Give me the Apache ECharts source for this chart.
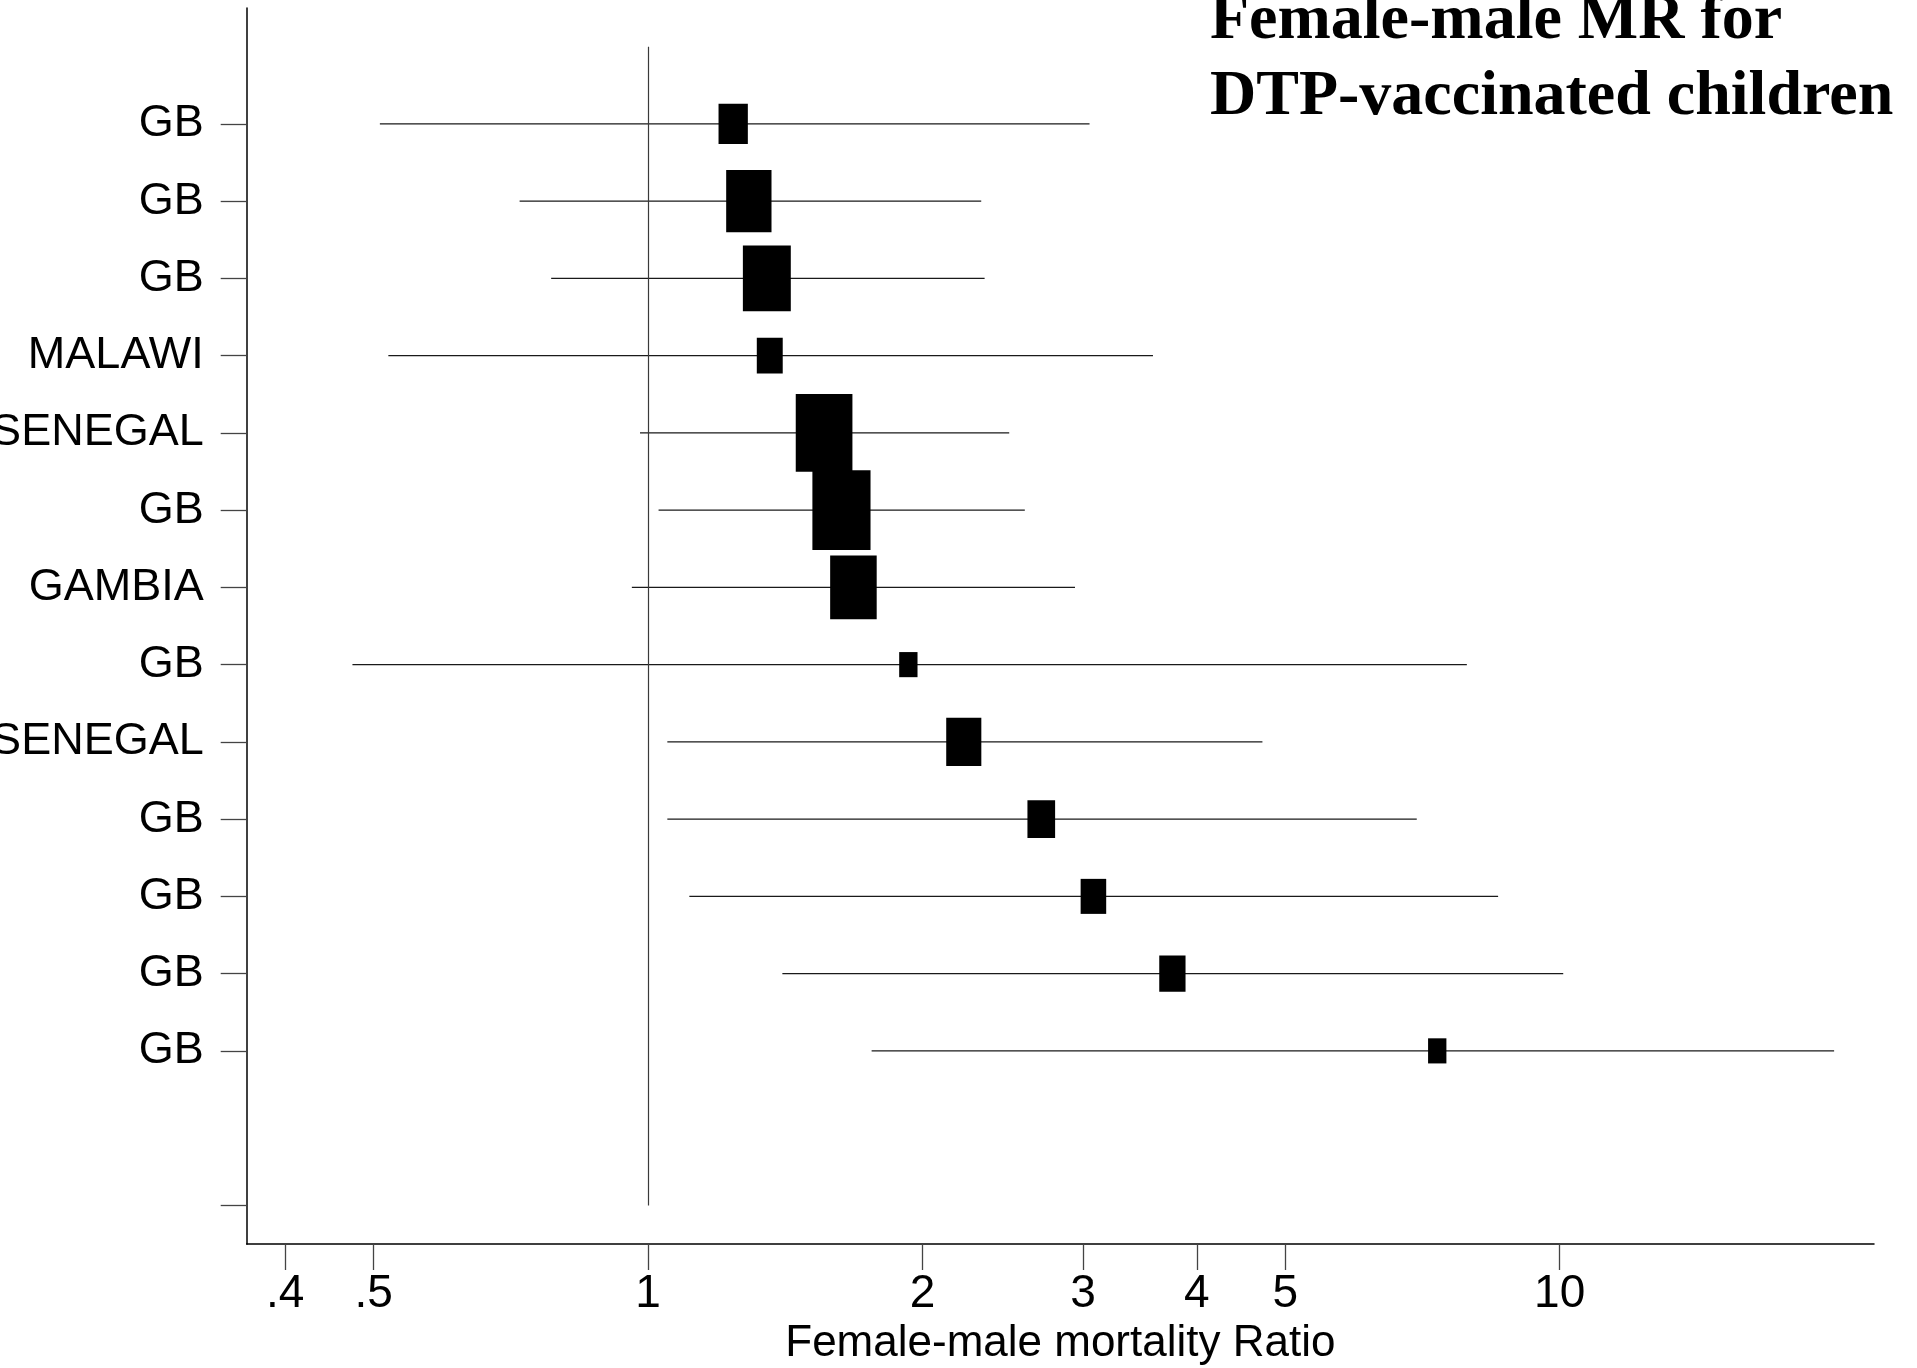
<!DOCTYPE html>
<html>
<head>
<meta charset="utf-8">
<title>Female-male MR for DTP-vaccinated children</title>
<script src="https://cdn.jsdelivr.net/npm/echarts@6/dist/echarts.min.js"></script>
<style>
  html, body { margin: 0; padding: 0; background: #fff; }
  #chart { width: 1917px; height: 1368px; }
</style>
</head>
<body>
<div id="chart"></div>
<script>
// Study labels, top to bottom
const studies = ['GB', 'GB', 'GB', 'MALAWI', 'SENEGAL', 'GB', 'GAMBIA', 'GB', 'SENEGAL', 'GB', 'GB', 'GB', 'GB'];
// Female-male mortality ratio per study, with its confidence interval
const ratio = [1.24, 1.29, 1.35, 1.36, 1.56, 1.63, 1.68, 1.93, 2.22, 2.70, 3.08, 3.76, 7.34];
const lower = [0.508, 0.723, 0.783, 0.519, 0.980, 1.027, 0.960, 0.474, 1.050, 1.050, 1.110, 1.404, 1.759];
const upper = [3.05, 2.32, 2.34, 3.58, 2.49, 2.59, 2.94, 7.91, 4.72, 6.97, 8.56, 10.09, 20.0];
// Study weights (%), shown as the area of each box
const weights = [4.6, 11.0, 12.3, 3.6, 17.2, 18.1, 11.6, 1.8, 6.6, 4.1, 3.5, 3.7, 1.8];
// Axis ticks
const xTicks = [0.4, 0.5, 1, 2, 3, 4, 5, 10];
const xTickLabels = ['.4', '.5', '1', '2', '3', '4', '5', '10'];
const refValue = 1;

const SANS = "'Liberation Sans', Arial, Helvetica, sans-serif";
const SERIF = "'Liberation Serif', 'Times New Roman', Times, serif";
const BOX_SCALE = 18.72;   // px of box height per sqrt(weight %)
const BOX_ASPECT = 0.73;   // box width / height

const rows = studies.map((_, i) => i + 1);
const yTicks = rows.concat([rows.length + 2]);

const ciData = rows.map((r, i) => [lower[i], upper[i], r]);
const pointData = rows.map((r, i) => [ratio[i], r, weights[i]]);

const chart = echarts.init(document.getElementById('chart'), null, { renderer: 'canvas' });

chart.setOption({
  animation: false,
  backgroundColor: '#ffffff',
  title: {
    text: 'Female-male MR for\nDTP-vaccinated children',
    left: 1210,
    top: -17,
    padding: 0,
    textStyle: {
      fontFamily: SERIF,
      fontWeight: 'bold',
      fontSize: 64,
      lineHeight: 76,
      color: '#000'
    }
  },
  grid: {
    left: 246.7, right: 43, top: 8, bottom: 124,
    containLabel: false,
    outerBoundsMode: 'none'
  },
  xAxis: {
    type: 'log',
    logBase: 10,
    min: 0.3629,
    max: 22.12,
    name: 'Female-male mortality Ratio',
    nameLocation: 'middle',
    nameGap: 77,
    nameTextStyle: { fontFamily: SANS, fontSize: 44, lineHeight: 44, color: '#000' },
    axisLine: { show: true, onZero: false, lineStyle: { color: '#000', width: 1.5 } },
    axisTick: {
      show: true, inside: false, length: 26,
      customValues: xTicks,
      lineStyle: { color: '#444', width: 1.3 }
    },
    axisLabel: {
      show: true, margin: 27,
      customValues: xTicks,
      fontFamily: SANS, fontSize: 46, lineHeight: 46, color: '#000',
      formatter: function (v) {
        const k = xTicks.findIndex(t => Math.abs(t - v) < 1e-6);
        return k >= 0 ? xTickLabels[k] : '';
      }
    },
    splitLine: { show: false },
    minorTick: { show: false }
  },
  yAxis: {
    type: 'value',
    inverse: true,
    min: -0.5,
    max: rows.length + 2.5,
    axisLine: { show: true, onZero: false, lineStyle: { color: '#000', width: 1.5 } },
    axisTick: {
      show: true, inside: false, length: 26,
      customValues: yTicks,
      lineStyle: { color: '#444', width: 1.3 }
    },
    axisLabel: {
      show: true, margin: 43,
      customValues: rows,
      fontFamily: SANS, fontSize: 45, color: '#000',
      padding: [0, 0, 12, 0],
      formatter: function (v) {
        const k = Math.round(v) - 1;
        return (k >= 0 && k < studies.length) ? studies[k] : '';
      }
    },
    splitLine: { show: false }
  },
  series: [
    {
      // confidence intervals
      type: 'custom',
      z: 2,
      data: ciData,
      encode: { x: [0, 1], y: 2 },
      renderItem: function (params, api) {
        const a = api.coord([api.value(0), api.value(2)]);
        const b = api.coord([api.value(1), api.value(2)]);
        return {
          type: 'line',
          shape: { x1: a[0], y1: a[1], x2: b[0], y2: b[1] },
          style: { stroke: '#1a1a1a', lineWidth: 1.4 }
        };
      },
      markLine: {
        silent: true,
        symbol: 'none',
        label: { show: false },
        lineStyle: { color: '#3a3a3a', width: 1.2, type: 'solid' },
        data: [[{ coord: [refValue, 0] }, { coord: [refValue, rows.length + 2] }]]
      }
    },
    {
      // point estimates, box area proportional to weight
      type: 'scatter',
      z: 3,
      data: pointData,
      symbol: 'rect',
      symbolSize: function (val) {
        const h = BOX_SCALE * Math.sqrt(val[2]);
        return [h * BOX_ASPECT, h];
      },
      itemStyle: { color: '#000', opacity: 1 }
    }
  ]
});
</script>
</body>
</html>
